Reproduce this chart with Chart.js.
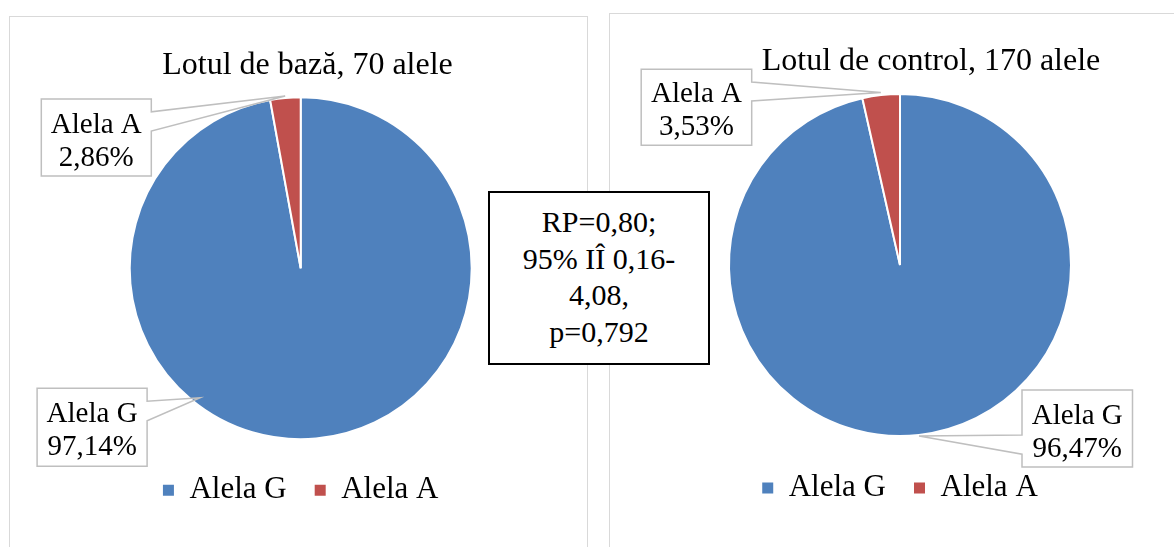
<!DOCTYPE html>
<html>
<head>
<meta charset="utf-8">
<title>Alelele G/A</title>
<script src="https://cdn.jsdelivr.net/npm/chart.js@4.4.1/dist/chart.umd.min.js"></script>
<style>
  html, body { margin: 0; padding: 0; background: #fff; overflow: hidden; }
  body { width: 1174px; height: 547px; position: relative; font-family: 'Liberation Serif', 'Times New Roman', serif; }
  .panel { position: absolute; box-sizing: border-box; border: 1px solid #d9d9d9; background: #fff; }
  #panelBase { left: 9px; top: 16px; width: 579px; height: 560px; }
  #panelControl { left: 609px; top: 13px; width: 600px; height: 560px; }
  .panel canvas { position: absolute; left: 0; top: 0; }
  #stats {
    position: absolute; left: 488px; top: 191px; width: 222px; height: 174px;
    box-sizing: border-box; border: 2px solid #000; background: #fff; color: #000;
    font-family: 'Liberation Serif', serif;
    text-align: center; font-size: 30px; line-height: 36.5px; padding-top: 11px;
  }
</style>
</head>
<body>
<div class="panel" id="panelBase"><canvas id="chartBase" width="577" height="530"></canvas></div>
<div class="panel" id="panelControl"><canvas id="chartControl" width="564" height="533"></canvas></div>
<div id="stats"></div>
<script>
const alleleLabels = ['Alela G', 'Alela A'];
const baseValues = [97.14, 2.86];
const controlValues = [96.47, 3.53];
const alleleColors = ['#4f81bd', '#c0504d'];
const baseTitle = 'Lotul de bază, 70 alele';
const controlTitle = 'Lotul de control, 170 alele';
const statLines = ['RP=0,80;', '95% IÎ 0,16-', '4,08,', 'p=0,792'];

(function () {
    const FONT = "'Liberation Serif', serif";

    function fmtPercent(v) {
        return v.toFixed(2).replace('.', ',') + '%';
    }

    // rectangle callout with a wedge pointing at the slice (same rules as Office's wedgeRectCallout)
    function drawCallout(ctx, box, tip, lines) {
        const x = box.x, y = box.y, w = box.w, h = box.h;
        const cx = x + w / 2, cy = y + h / 2;
        const dx = tip.x - cx, dy = tip.y - cy;
        const vertical = Math.abs(dy) > Math.abs(dx * h / w);
        const xb1 = x + w * (dx > 0 ? 7 : 2) / 12, xb2 = x + w * (dx > 0 ? 10 : 5) / 12;
        const yb1 = y + h * (dy > 0 ? 7 : 2) / 12, yb2 = y + h * (dy > 0 ? 10 : 5) / 12;

        ctx.fillStyle = '#fff';
        ctx.fillRect(x, y, w, h);

        ctx.beginPath();
        ctx.moveTo(x, y);
        if (vertical && dy < 0) { ctx.lineTo(xb1, y); ctx.lineTo(tip.x, tip.y); ctx.lineTo(xb2, y); }
        ctx.lineTo(x + w, y);
        if (!vertical && dx > 0) { ctx.lineTo(x + w, yb1); ctx.lineTo(tip.x, tip.y); ctx.lineTo(x + w, yb2); }
        ctx.lineTo(x + w, y + h);
        if (vertical && dy > 0) { ctx.lineTo(xb2, y + h); ctx.lineTo(tip.x, tip.y); ctx.lineTo(xb1, y + h); }
        ctx.lineTo(x, y + h);
        if (!vertical && dx < 0) { ctx.lineTo(x, yb2); ctx.lineTo(tip.x, tip.y); ctx.lineTo(x, yb1); }
        ctx.closePath();
        ctx.strokeStyle = '#bfbfbf';
        ctx.lineWidth = 1.5;
        ctx.stroke();

        ctx.fillStyle = '#000';
        ctx.font = '29px ' + FONT;
        ctx.textAlign = 'center';
        ctx.textBaseline = 'alphabetic';
        ctx.fillText(lines[0], cx, cy - 5);
        ctx.fillText(lines[1], cx, cy + 28);
    }

    const calloutPlugin = {
        id: 'callouts',
        afterDatasetsDraw(chart, args, opts) {
            const ctx = chart.ctx;
            const arcs = chart.getDatasetMeta(0).data;
            const values = chart.data.datasets[0].data;
            ctx.save();

            ctx.fillStyle = '#000';
            ctx.font = '32px ' + FONT;
            ctx.textAlign = 'center';
            ctx.textBaseline = 'alphabetic';
            ctx.fillText(opts.title, opts.titleX, opts.titleY);

            opts.boxes.forEach(function (b) {
                const p = arcs[b.index].getProps(['x', 'y', 'startAngle', 'endAngle', 'outerRadius'], true);
                const a = p.startAngle + b.frac * (p.endAngle - p.startAngle);
                const r = p.outerRadius + b.dr;
                const tip = { x: p.x + Math.cos(a) * r, y: p.y + Math.sin(a) * r };
                drawCallout(ctx, b, tip, [chart.data.labels[b.index], fmtPercent(values[b.index])]);
            });
            ctx.restore();
        }
    };

    function legendLabels(chart) {
        const items = Chart.overrides.doughnut.plugins.legend.labels.generateLabels(chart);
        items.forEach(function (it) { it.lineWidth = 0; });
        return items;
    }

    function renderPieChart(canvasId, values, layout) {
        const canvas = document.getElementById(canvasId);
        if (!canvas) return null;
        try {
            return new Chart(canvas.getContext('2d'), {
                type: 'pie',
                data: {
                    labels: alleleLabels,
                    datasets: [{
                        data: values,
                        backgroundColor: alleleColors,
                        borderColor: '#fff',
                        borderWidth: 2,
                        hoverOffset: 0,
                        radius: 171
                    }]
                },
                options: {
                    responsive: false,
                    animation: false,
                    events: [],
                    layout: { padding: layout.padding },
                    plugins: {
                        title: { display: false },
                        tooltip: { enabled: false },
                        legend: {
                            position: 'bottom',
                            labels: {
                                boxWidth: 11,
                                boxHeight: 11,
                                padding: 28,
                                color: '#000',
                                font: { family: FONT, size: 31 },
                                generateLabels: legendLabels
                            }
                        },
                        callouts: {
                            title: layout.title,
                            titleX: layout.titleX,
                            titleY: layout.titleY,
                            boxes: layout.boxes
                        }
                    }
                },
                plugins: [calloutPlugin]
            });
        } catch (e) {
            console.error('renderPieChart error', canvasId, e);
            return null;
        }
    }

    renderPieChart('chartBase', baseValues, {
        padding: { top: 72.9, bottom: 31.3, left: 4.4, right: 0 },
        title: baseTitle, titleX: 297.5, titleY: 57,
        boxes: [
            { index: 1, x: 31.3, y: 82, w: 110, h: 77, frac: 0.5, dr: 2 },
            { index: 0, x: 27.1, y: 371.3, w: 110, h: 78, frac: 0.623, dr: -7 }
        ]
    });

    renderPieChart('chartControl', controlValues, {
        padding: { top: 71.5, bottom: 33.5, left: 16, right: 0 },
        title: controlTitle, titleX: 321, titleY: 56,
        boxes: [
            { index: 1, x: 31.2, y: 55.3, w: 110.5, h: 76, frac: 0.5, dr: 2.5 },
            { index: 0, x: 412, y: 376, w: 110.5, h: 77, frac: 0.5, dr: 1 }
        ]
    });

    const stats = document.getElementById('stats');
    statLines.forEach(function (line, i) {
        if (i > 0) stats.appendChild(document.createElement('br'));
        stats.appendChild(document.createTextNode(line));
    });
})();
</script>
</body>
</html>
